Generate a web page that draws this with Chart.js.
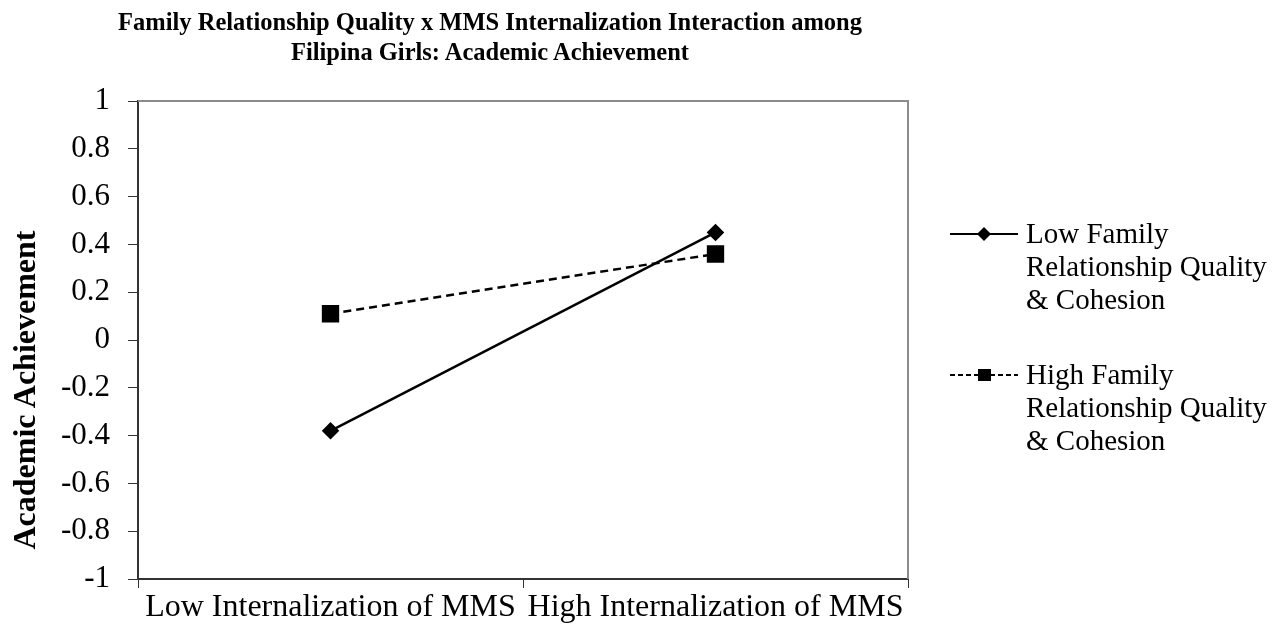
<!DOCTYPE html>
<html>
<head>
<meta charset="utf-8">
<script src="https://cdn.jsdelivr.net/npm/chart.js@4.4.1/dist/chart.umd.min.js"></script>
<style>
    html, body { margin: 0; padding: 0; background: #fff; }
    body { width: 1285px; height: 634px; position: relative; overflow: hidden;
           font-family: 'Liberation Serif', 'Times New Roman', serif; color: #000; }
    #wrap { position: absolute; left: 0; top: 0; width: 1285px; height: 634px; }
    #title { position: absolute; left: 0; width: 980px; top: 7px; text-align: center;
             font-weight: bold; font-size: 24.5px; line-height: 30px; }
    #ytitle { position: absolute; left: 24px; top: 390px; width: 400px; margin-left: -200px;
              height: 36px; margin-top: -18px; line-height: 36px; text-align: center;
              font-weight: bold; font-size: 32px; white-space: nowrap;
              transform: rotate(-90deg); }
    .legend-item { position: absolute; left: 950px; font-size: 29px; line-height: 33px; }
    .legend-item svg { position: absolute; left: 0; top: 9px; }
    .legend-item .txt { position: absolute; left: 76px; top: 0; white-space: nowrap; }
</style>
</head>
<body>
<div id="wrap"><canvas id="chart" width="1285" height="634"></canvas></div>
<div id="title">Family Relationship Quality x MMS Internalization Interaction among<br>Filipina Girls: Academic Achievement</div>
<div id="ytitle">Academic Achievement</div>
<div class="legend-item" style="top:217px">
    <svg width="70" height="16"><line x1="0" y1="8" x2="68" y2="8" stroke="#000" stroke-width="2"/><polygon points="34,1 41,8 34,15 27,8" fill="#000"/></svg>
    <div class="txt">Low Family<br>Relationship Quality<br>&amp; Cohesion</div>
</div>
<div class="legend-item" style="top:358px">
    <svg width="70" height="16"><line x1="0" y1="8" x2="68" y2="8" stroke="#000" stroke-width="2" stroke-dasharray="5,3"/><rect x="28" y="2" width="13" height="12" fill="#000"/></svg>
    <div class="txt">High Family<br>Relationship Quality<br>&amp; Cohesion</div>
</div>
<script>
    // categories and series
    const CATEGORIES  = ['Low Internalization of MMS', 'High Internalization of MMS'];
    const LOW_FAMILY  = [-0.38, 0.45];
    const HIGH_FAMILY = [0.11, 0.36];
    const Y_TICKS     = [1, 0.8, 0.6, 0.4, 0.2, 0, -0.2, -0.4, -0.6, -0.8, -1];
    const SERIES_NAMES = ['Low Family Relationship Quality & Cohesion', 'High Family Relationship Quality & Cohesion'];

    const FONT = "'Liberation Serif', 'Times New Roman', serif";

    // grey top/right frame around the plot
    const frame = {
        id: 'frame',
        beforeDatasetsDraw(chart) {
            const { ctx, chartArea: a } = chart;
            ctx.save();
            ctx.strokeStyle = '#8c8c8c';
            ctx.lineWidth = 2;
            ctx.beginPath();
            ctx.moveTo(a.left, a.top);
            ctx.lineTo(a.right, a.top);
            ctx.lineTo(a.right, a.bottom);
            ctx.stroke();
            ctx.restore();
        }
    };

    new Chart(document.getElementById('chart'), {
        type: 'line',
        data: {
            labels: CATEGORIES,
            datasets: [
                {
                    label: SERIES_NAMES[0],
                    data: LOW_FAMILY,
                    borderColor: '#000',
                    backgroundColor: '#000',
                    borderWidth: 2.5,
                    pointStyle: 'rectRot',
                    pointRadius: 7,
                    tension: 0,
                },
                {
                    label: SERIES_NAMES[1],
                    data: HIGH_FAMILY,
                    borderColor: '#000',
                    backgroundColor: '#000',
                    borderWidth: 2.5,
                    borderDash: [8, 5],
                    pointStyle: 'rect',
                    pointRadius: 10.5,
                    tension: 0,
                }
            ]
        },
        options: {
            responsive: false,
            animation: false,
            layout: { padding: { top: 101, right: 377, left: 0, bottom: 0 } },
            plugins: { legend: { display: false }, title: { display: false }, tooltip: { enabled: false } },
            scales: {
                x: {
                    offset: true,
                    grid: { offset: true, drawOnChartArea: false, tickLength: 9, color: '#333', lineWidth: 1 },
                    border: { color: '#333', width: 2 },
                    ticks: { color: '#000', font: { family: FONT, size: 32 }, padding: 0, maxRotation: 0 },
                    afterFit: (s) => { s.height = 55; }
                },
                y: {
                    min: -1, max: 1,
                    afterBuildTicks: (s) => { s.ticks = Y_TICKS.map(v => ({ value: v })); },
                    grid: { drawOnChartArea: false, tickLength: 10, color: '#333', lineWidth: 1 },
                    border: { color: '#333', width: 2 },
                    ticks: { color: '#000', font: { family: FONT, size: 31 }, padding: 18,
                             callback: (v) => String(Math.round(v * 10) / 10) },
                    afterFit: (s) => { s.width = 138; }
                }
            }
        },
        plugins: [frame]
    });
</script>
</body>
</html>
